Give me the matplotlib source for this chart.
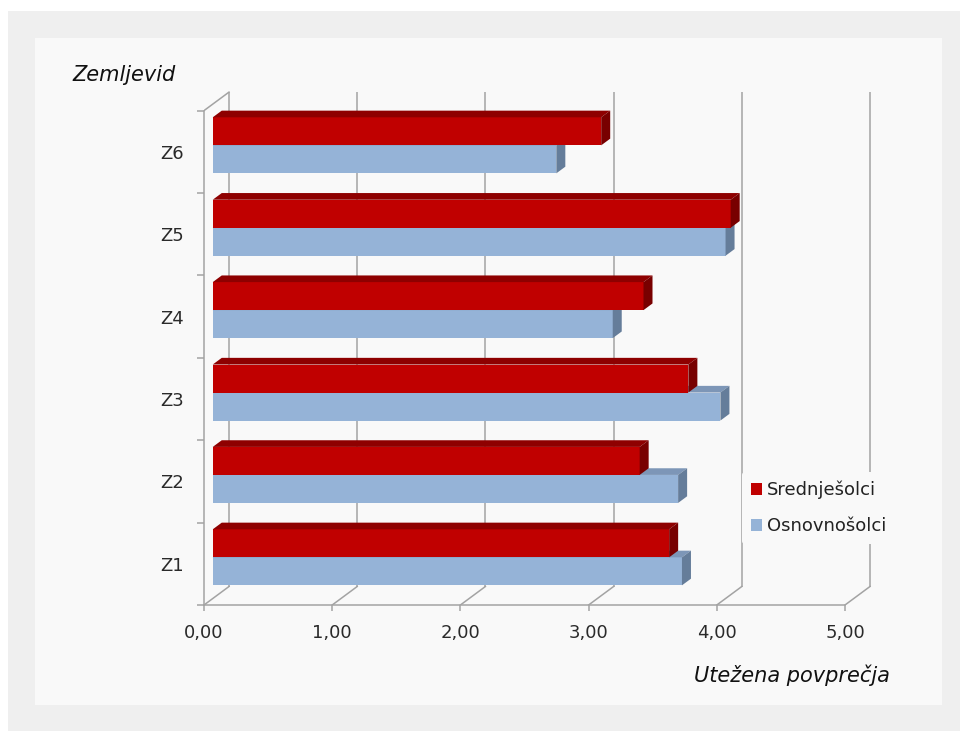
import matplotlib
matplotlib.use('Agg')
import matplotlib.pyplot as plt
from matplotlib.patches import Polygon, Rectangle, Patch

# ---------------- data ----------------
categories = ['Z1', 'Z2', 'Z3', 'Z4', 'Z5', 'Z6']
srednjesolci = [3.56, 3.33, 3.71, 3.36, 4.04, 3.03]
osnovnosolci = [3.66, 3.63, 3.96, 3.12, 4.00, 2.68]
series_names = ['Srednješolci', 'Osnovnošolci']
x_ticks = [0, 1, 2, 3, 4, 5]
x_tick_labels = ['0,00', '1,00', '2,00', '3,00', '4,00', '5,00']
y_title = 'Zemljevid'
x_title = 'Utežena povprečja'

# ---------------- style ----------------
RED = ('#C00000', '#8E0000', '#780000')      # front, top, side
BLUE = ('#95B3D7', '#7D96B7', '#657D9A')
GRID = '#a3a3a3'
DX, DY = 0.195, 0.2245      # full-depth offset in data units
D_FRONT, D_BACK = 0.35, 0.71
BAR_H = 0.34

W, H = 960, 731
fig = plt.figure(figsize=(W / 100, H / 100), dpi=100)
fig.patch.set_facecolor('white')
fig.add_artist(Rectangle((8 / W, 0), 1, 1 - 11 / H, transform=fig.transFigure,
                         facecolor='#efefef', edgecolor='none', zorder=-20))
fig.add_artist(Rectangle((35 / W, 1 - 705 / H), (942 - 35) / W, (705 - 38) / H,
                         transform=fig.transFigure, facecolor='#f9f9f9',
                         edgecolor='none', zorder=-19))

xmax = 5.25
ymin, ymax = -0.5, 5.75
ax = fig.add_axes([204 / W, 1 - 605 / H, xmax * 128.2 / W, (ymax - ymin) * 82.4 / H])
ax.set_xlim(0, xmax)
ax.set_ylim(ymin, ymax)
ax.patch.set_alpha(0)

ncat = len(categories)
lo_c, hi_c = -0.5, ncat - 0.5


def proj(v, c, d):
    return (v + d * DX, c + d * DY)


lw = 1.1
# back wall gridlines
for v in x_ticks:
    x0, y0 = proj(v, lo_c, 1)
    x1, y1 = proj(v, hi_c, 1)
    ax.plot([x0, x1], [y0, y1], color=GRID, lw=lw, zorder=1, solid_capstyle='butt')
    # floor diagonals
    fx, fy = proj(v, lo_c, 0)
    ax.plot([fx, x0], [fy, y0], color=GRID, lw=lw, zorder=1)
# left wall top diagonal
tx0, ty0 = proj(0, hi_c, 0)
tx1, ty1 = proj(0, hi_c, 1)
ax.plot([tx0, tx1], [ty0, ty1], color=GRID, lw=lw, zorder=1)

# spines as front axes
for s in ['top', 'right']:
    ax.spines[s].set_visible(False)
ax.spines['left'].set_bounds(lo_c, hi_c)
ax.spines['bottom'].set_bounds(0, 5)
for s in ['left', 'bottom']:
    ax.spines[s].set_color(GRID)
    ax.spines[s].set_linewidth(lw)

ax.set_xticks(x_ticks)
ax.set_xticklabels(x_tick_labels)
ax.tick_params(axis='x', direction='out', length=4, width=lw, color=GRID,
               pad=10, labelsize=13, labelcolor='#2a2a2a')
ax.set_yticks([lo_c + i for i in range(ncat + 1)])
ax.set_yticklabels([])
ax.tick_params(axis='y', which='major', direction='out', length=5, width=lw, color=GRID)
ax.set_yticks(list(range(ncat)), minor=True)
ax.set_yticklabels(categories, minor=True)
ax.tick_params(axis='y', which='minor', length=0, pad=14.5, labelsize=13,
               labelcolor='#2a2a2a')
for lab in ax.get_xticklabels() + ax.get_yticklabels(minor=True):
    lab.set_fontfamily('DejaVu Sans')

# bars
yc = list(range(ncat))
for vals, offset, cols in [(osnovnosolci, -BAR_H, BLUE), (srednjesolci, 0.0, RED)]:
    bottoms = [c + offset for c in yc]
    ax.barh([b + D_FRONT * DY for b in bottoms], vals, height=BAR_H,
            left=D_FRONT * DX, align='edge', color=cols[0], edgecolor='none', zorder=3)
    for b, v in zip(bottoms, vals):
        top = b + BAR_H
        ax.add_patch(Polygon([proj(0, top, D_FRONT), proj(v, top, D_FRONT),
                              proj(v, top, D_BACK), proj(0, top, D_BACK)],
                             closed=True, facecolor=cols[1], edgecolor='none', zorder=3))
        ax.add_patch(Polygon([proj(v, b, D_FRONT), proj(v, top, D_FRONT),
                              proj(v, top, D_BACK), proj(v, b, D_BACK)],
                             closed=True, facecolor=cols[2], edgecolor='none', zorder=3))

# legend
handles = [Patch(facecolor=RED[0], edgecolor='none'), Patch(facecolor=BLUE[0], edgecolor='none')]
leg = fig.legend(handles, series_names, loc='center left',
                 bbox_to_anchor=(742 / W, 1 - 508 / H), frameon=True,
                 facecolor='#f9f9f9', edgecolor='none', framealpha=1,
                 handlelength=0.6, handleheight=0.6, handletextpad=0.3,
                 labelspacing=1.0, borderpad=0.5, borderaxespad=0,
                 prop={'family': 'DejaVu Sans', 'size': 13})
leg.set_zorder(10)
for t in leg.get_texts():
    t.set_color('#222222')

# axis titles
fig.text(72 / W, 1 - 75 / H, y_title, ha='left', va='center', fontsize=15,
         style='italic', family='DejaVu Sans', color='#111111')
fig.text(890 / W, 1 - 675 / H, x_title, ha='right', va='center', fontsize=15,
         style='italic', family='DejaVu Sans', color='#111111')

fig.savefig('out.png', dpi=100, facecolor=fig.get_facecolor())
